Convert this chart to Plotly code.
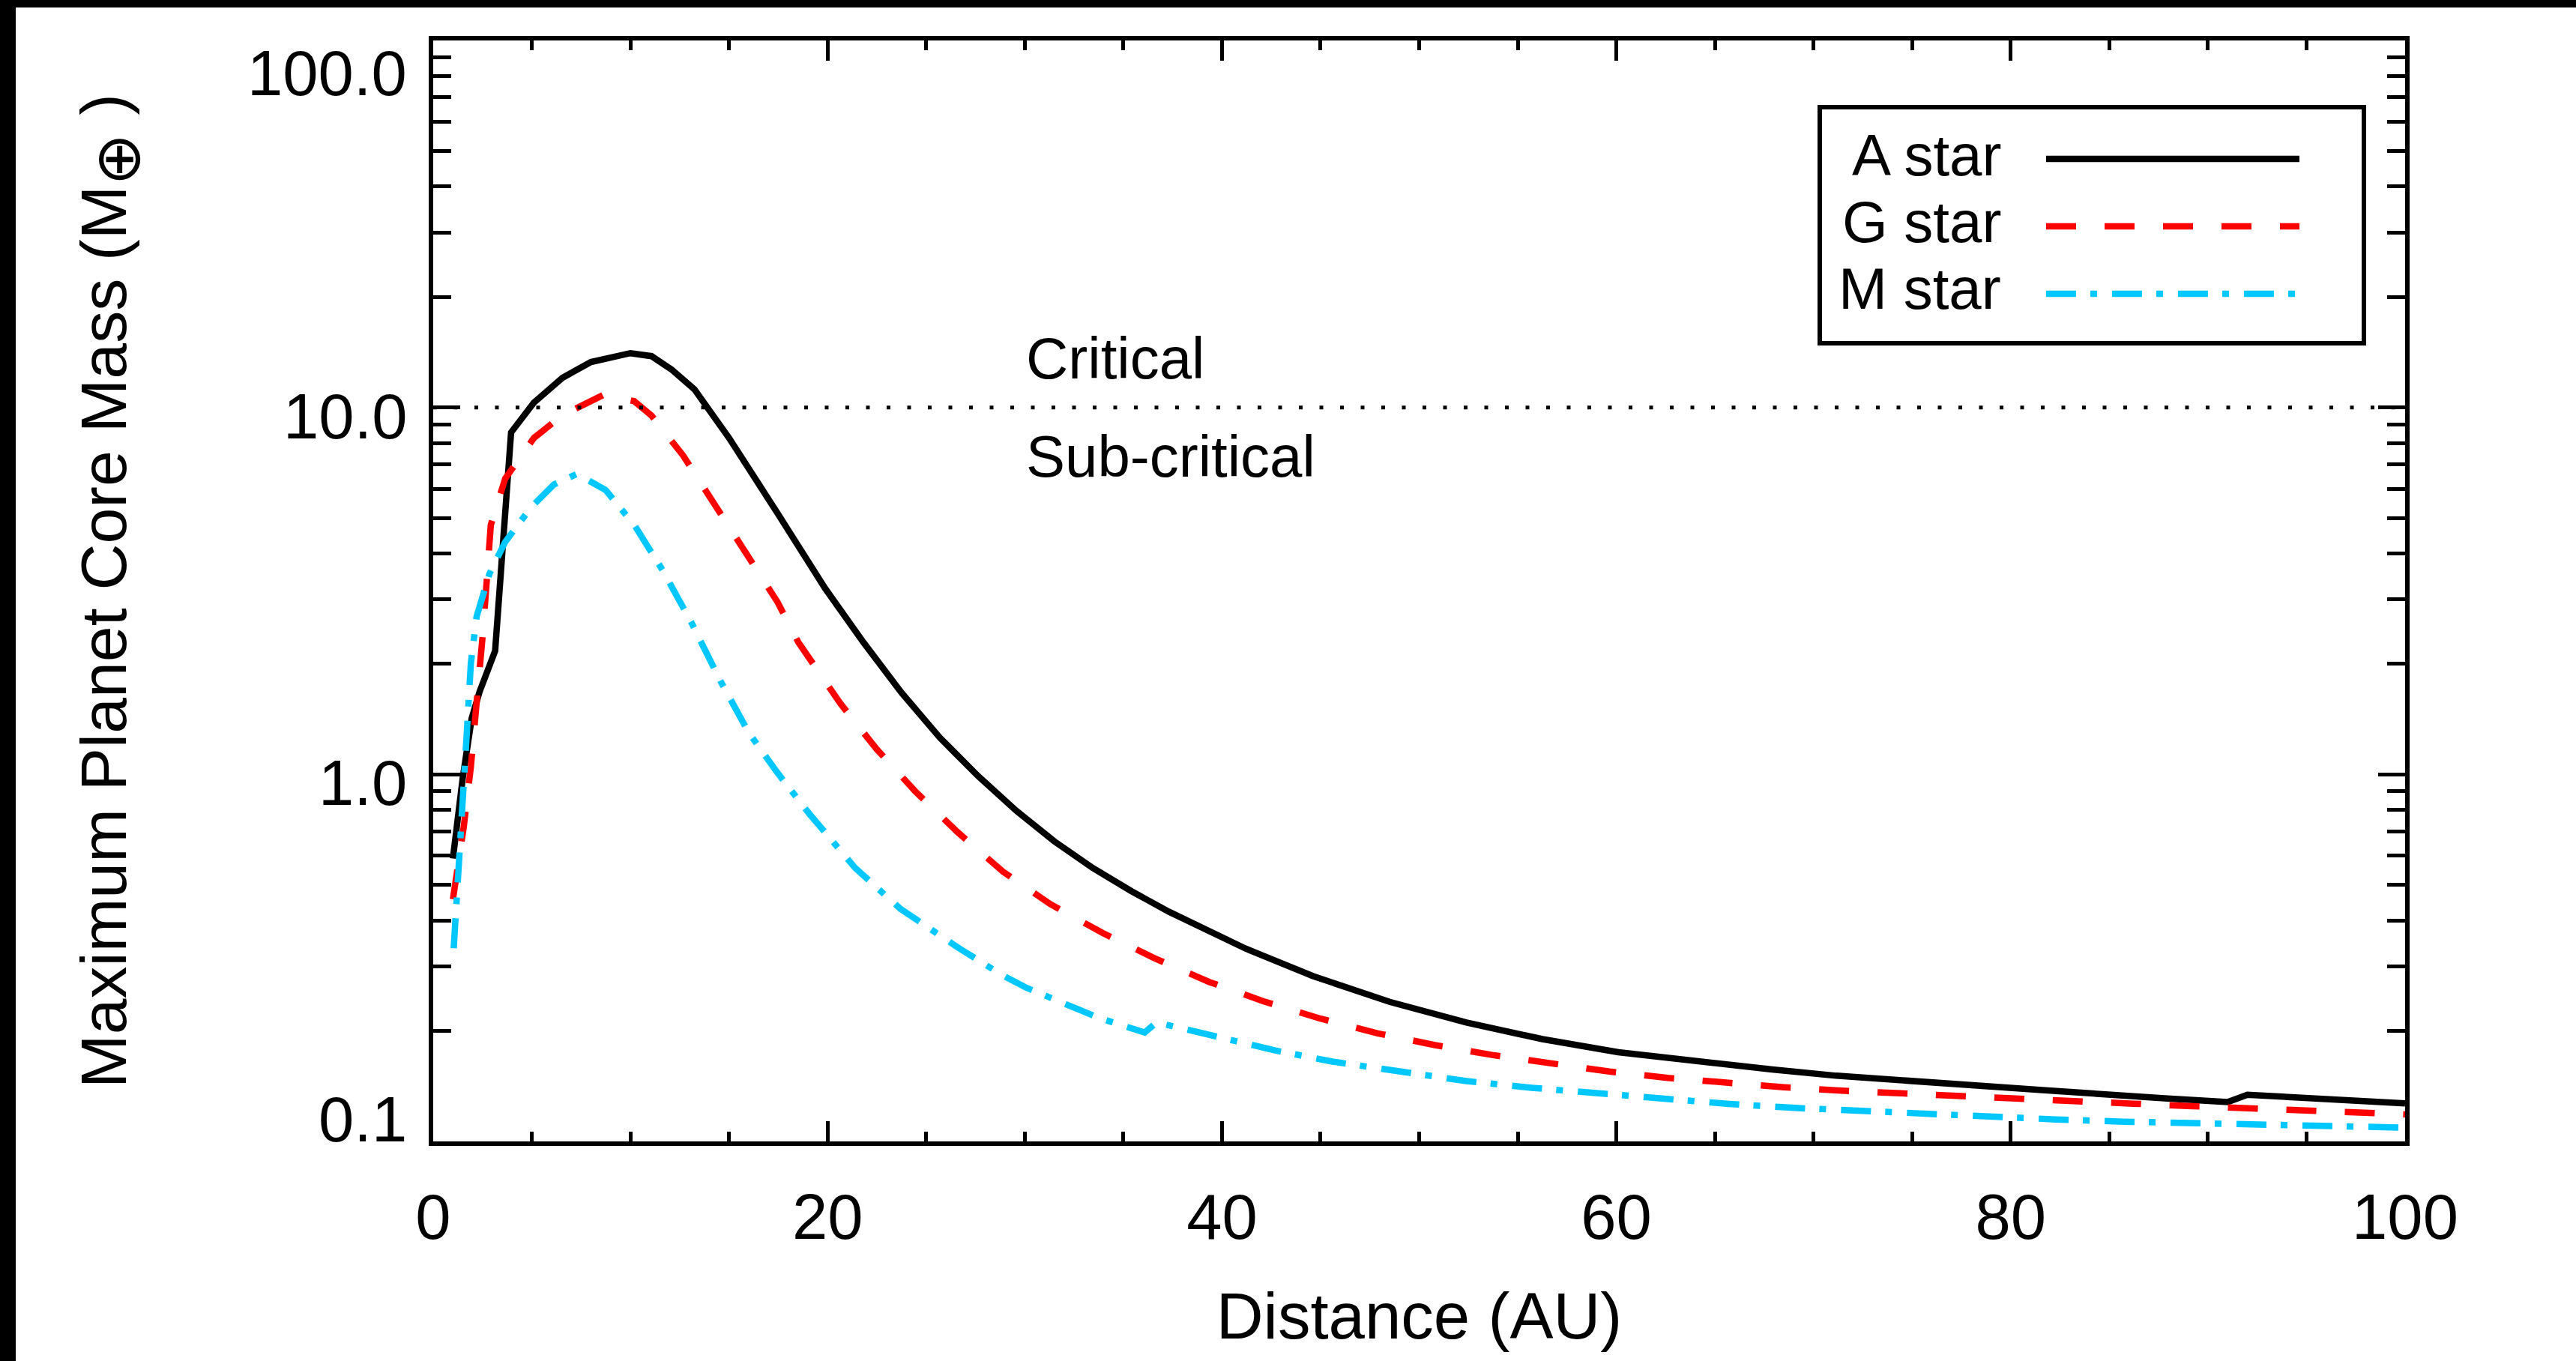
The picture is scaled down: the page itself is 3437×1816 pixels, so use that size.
import numpy as np
import plotly.graph_objects as go

# ---------------- data ----------------
a_star_x = [1.0, 1.5, 1.95, 2.35, 3.14, 3.95, 5.1, 6.56, 8.0, 10.0, 11.07, 12.08, 13.25, 15.0,
            17.46, 19.88, 21.82, 23.75, 25.69, 27.63, 29.57, 31.5, 33.45, 35.4, 37.3, 39.3,
            41.2, 44.6, 48.5, 52.4, 56.25, 60.1, 64.0, 67.9, 71.15, 75.4, 81.6, 87.8, 91.0,
            92.0, 96.0, 100.0]
a_star_y = [0.59, 0.98, 1.42, 1.68, 2.17, 8.55, 10.3, 12.05, 13.3, 14.06, 13.8, 12.7, 11.2, 8.26,
            5.15, 3.21, 2.29, 1.67, 1.26, 0.99, 0.796, 0.657, 0.556, 0.481, 0.4227, 0.3733,
            0.3353, 0.2823, 0.2401, 0.2108, 0.190, 0.175, 0.165, 0.157, 0.151, 0.145, 0.138, 0.131, 0.128,
            0.134, 0.1305, 0.127]

g_star_x = [1.0, 1.55, 1.91, 2.2, 2.49, 2.71, 2.92, 3.65, 5.11, 6.56, 8.6, 10.19, 11.07, 12.67,
            14.27, 15.86, 17.46, 18.52, 20.65, 22.5, 24.44, 26.57, 28.9, 31.3, 33.94, 36.56,
            39.35, 42.1, 45.0, 47.9, 50.8, 53.7, 56.6, 59.65, 62.6, 65.6, 68.5, 71.4, 74.4,
            77.4, 80.4, 83.3, 86.2, 89.2, 92.2, 95.2, 98.2, 100.0]
g_star_y = [0.457, 0.72, 1.05, 1.51, 2.33, 3.34, 4.78, 6.40, 8.26, 9.53, 10.8, 10.4, 9.5, 7.4,
            5.45, 4.0, 2.95, 2.29, 1.56, 1.17, 0.90, 0.698, 0.543, 0.443, 0.370, 0.316,
            0.272, 0.241, 0.216, 0.197, 0.183, 0.172, 0.163, 0.155, 0.149, 0.144, 0.1405, 0.1375, 0.1350,
            0.1328, 0.1306, 0.1286, 0.1267, 0.1248, 0.1230, 0.1212, 0.1195, 0.1185]

m_star_x = [1.04, 1.33, 1.47, 1.69, 1.91, 2.2, 2.85, 3.65, 4.96, 6.13, 7.29, 8.74, 10.19, 11.65,
            13.10, 14.56, 16.0, 17.46, 19.1, 21.4, 23.7, 26.67, 28.8, 30.1, 33.76, 36.08, 36.68,
            40.75, 42.7, 45.6, 48.9, 52.4, 55.7, 59.0, 62.3, 65.7, 68.9, 72.3, 75.6, 79.0, 82.3,
            85.7, 89.0, 92.3, 95.7, 99.1, 100.0]
m_star_y = [0.336, 0.568, 0.815, 1.26, 2.01, 2.69, 3.52, 4.30, 5.34, 6.17, 6.59, 5.96, 4.79, 3.59,
            2.59, 1.80, 1.30, 1.01, 0.778, 0.556, 0.43, 0.336, 0.285, 0.262, 0.217, 0.198, 0.211,
            0.187, 0.177, 0.165, 0.155, 0.146, 0.140, 0.135, 0.1305, 0.1265, 0.1235, 0.1210, 0.1187, 0.1167,
            0.1148, 0.1132, 0.1120, 0.1110, 0.1100, 0.1092, 0.1090]

critical_x = [0, 100]
critical_y = [10, 10]

x_tick_vals = [0, 20, 40, 60, 80, 100]
y_tick_vals = [0.1, 1, 10, 100]
y_tick_text = ["0.1", "1.0", "10.0", "100.0"]

series_names = ["A star", "G star", "M star"]
region_labels = ["Critical", "Sub-critical"]

# ---------------- styling ----------------
W_FIG, H_FIG = 3437, 1816
L, R, T, B = 578, 3209, 54, 1523
PW, PH = R - L, B - T
FONT = "Liberation Sans, Arial, Helvetica, sans-serif"
BLACK = "#000000"
RED = "#FF0000"
CYAN = "#00C8FF"


def px_x(px):
    return (px - L) / PW


def px_y(py):
    return (B - py) / PH


styles = [
    dict(color=BLACK, width=8.5, dash="solid"),
    dict(color=RED, width=8.5, dash="40px,38px"),
    dict(color=CYAN, width=8.5, dash="40px,19px,9px,20px"),
]

fig = go.Figure()
for name, xs, ys, st in zip(series_names, [a_star_x, g_star_x, m_star_x],
                            [a_star_y, g_star_y, m_star_y], styles):
    fig.add_trace(go.Scatter(x=xs, y=ys, mode="lines", name=name, line=st,
                             showlegend=False))

fig.add_trace(go.Scatter(x=critical_x, y=critical_y, mode="lines", name="Critical",
                         line=dict(color=BLACK, width=5, dash="5px,22.5px"),
                         showlegend=False))

annotations = []
# y tick labels (IDL keeps end labels inside the axis range)
y_label_shift = [30, -11, -12, -43]
for v, t, s in zip(y_tick_vals, y_tick_text, y_label_shift):
    annotations.append(dict(x=0, xref="paper", xanchor="right", xshift=-33,
                            y=float(np.log10(v)), yref="y", yanchor="middle", yshift=s,
                            text=t, showarrow=False,
                            font=dict(family=FONT, size=85, color=BLACK)))

# Critical / Sub-critical labels
annotations.append(dict(x=30, xref="x", xanchor="left", y=float(np.log10(critical_y[0])), yref="y",
                        yanchor="middle", yshift=66, text=region_labels[0], showarrow=False,
                        font=dict(family=FONT, size=78, color=BLACK)))
annotations.append(dict(x=30, xref="x", xanchor="left", y=float(np.log10(critical_y[0])), yref="y",
                        yanchor="middle", yshift=-65, text=region_labels[1], showarrow=False,
                        font=dict(family=FONT, size=78, color=BLACK)))

# custom legend (text left, line sample right)
shapes = []
shapes.append(dict(type="rect", xref="paper", yref="paper",
                   x0=px_x(2428), x1=px_x(3154), y0=px_y(458), y1=px_y(143),
                   line=dict(color=BLACK, width=6), fillcolor="white", layer="above"))
leg_text_y = [207, 296, 385]
leg_line_y = [212, 302, 392]
for name, st, ty, ly in zip(series_names, styles, leg_text_y, leg_line_y):
    annotations.append(dict(x=px_x(2672), xref="paper", xanchor="right",
                            y=px_y(ty), yref="paper", yanchor="middle",
                            text=name, showarrow=False,
                            font=dict(family=FONT, size=78, color=BLACK)))
    shapes.append(dict(type="line", xref="paper", yref="paper",
                       x0=px_x(2730), x1=px_x(3068), y0=px_y(ly), y1=px_y(ly),
                       line=dict(color=st["color"], width=st["width"], dash=st["dash"]),
                       layer="above"))

# black scan borders of the original image
shapes.append(dict(type="rect", xref="paper", yref="paper",
                   x0=px_x(0), x1=px_x(21), y0=px_y(H_FIG), y1=px_y(0),
                   line=dict(width=0), fillcolor=BLACK, layer="above"))
shapes.append(dict(type="rect", xref="paper", yref="paper",
                   x0=px_x(0), x1=px_x(W_FIG), y0=px_y(10), y1=px_y(0),
                   line=dict(width=0), fillcolor=BLACK, layer="above"))

fig.update_layout(
    width=W_FIG, height=H_FIG,
    margin=dict(l=L, r=W_FIG - R, t=T, b=H_FIG - B, pad=0),
    paper_bgcolor="white", plot_bgcolor="white",
    font=dict(family=FONT, size=85, color=BLACK),
    showlegend=False,
    annotations=annotations,
    shapes=shapes,
)

fig.update_xaxes(
    range=[0, 100], tickvals=x_tick_vals, ticktext=[str(v) for v in x_tick_vals],
    showgrid=False, zeroline=False,
    showline=True, linecolor=BLACK, linewidth=6, mirror="ticks",
    ticks="inside", ticklen=27, tickwidth=5, tickcolor=BLACK,
    minor=dict(dtick=5, ticks="inside", ticklen=13, tickwidth=5, tickcolor=BLACK, showgrid=False),
    tickfont=dict(family=FONT, size=85, color=BLACK),
    ticklabelstandoff=22,
    title=dict(text="Distance (AU)", font=dict(family=FONT, size=87, color=BLACK), standoff=57),
    automargin=False,
)

fig.update_yaxes(
    type="log", range=[-1, 2], dtick=1,
    showgrid=False, zeroline=False,
    showline=True, linecolor=BLACK, linewidth=6, mirror="ticks",
    ticks="inside", ticklen=36, tickwidth=5, tickcolor=BLACK,
    minor=dict(dtick="D1", ticks="inside", ticklen=24, tickwidth=5, tickcolor=BLACK, showgrid=False),
    showticklabels=False,
    title=dict(text="Maximum Planet Core Mass (M<sub><span style='font-size:84px'>⊕</span></sub> )",
               font=dict(family=FONT, size=86, color=BLACK), standoff=377),
    automargin=False,
)

fig.write_html("out.html")
